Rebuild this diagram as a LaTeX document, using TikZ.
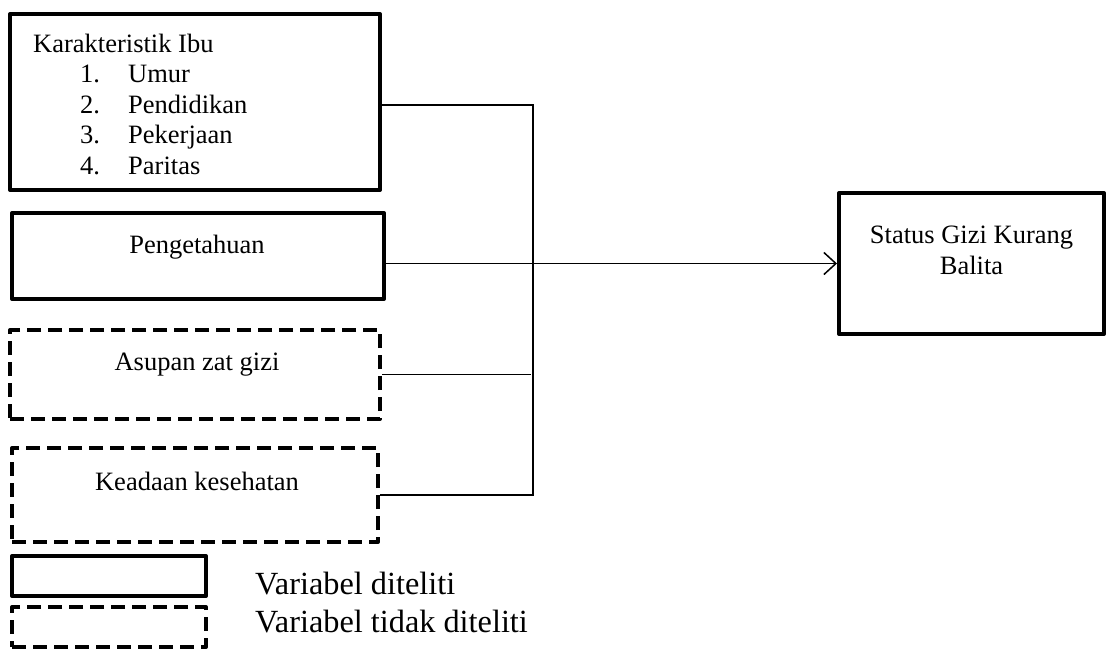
\documentclass[tikz,border=0pt]{standalone}
\usepackage{fontspec}
\setmainfont{Liberation Serif}
\usetikzlibrary{arrows.meta}

\begin{document}
\begin{tikzpicture}[x=1pt, y=-1pt,
                    box/.style={draw, line width=4pt, line join=round, inner sep=0pt},
                    dbox/.style={box, dash pattern=on 14pt off 7pt},
                    link/.style={line width=1.5pt},
                    txt/.style={font=\fontsize{26.5}{30.5}\selectfont, inner sep=0pt},
                    legtxt/.style={font=\fontsize{32.3}{37}\selectfont, inner sep=0pt, anchor=base west}]

  \useasboundingbox (0,0) rectangle (1107,649);

  % === Variable boxes (Left) ===
  \node[box, minimum width=370pt, minimum height=176pt] (ibu) at (195,102) {};
  \node[box, minimum width=372pt, minimum height=86pt] (penget) at (198,256) {};
  \node[dbox, minimum width=370pt, minimum height=89pt] (asupan) at (195,374.5) {};
  \node[dbox, minimum width=366pt, minimum height=94pt] (keadaan) at (195,495) {};

  \node[txt, anchor=base west] (ibu-txt) at (33,52) {%
    \begin{tabular}[t]{@{}l@{}}
      Karakteristik Ibu\\
      \hspace*{47pt}\makebox[48pt][l]{1.}Umur\\
      \hspace*{47pt}\makebox[48pt][l]{2.}Pendidikan\\
      \hspace*{47pt}\makebox[48pt][l]{3.}Pekerjaan\\
      \hspace*{47pt}\makebox[48pt][l]{4.}Paritas
    \end{tabular}};
  \node[txt, anchor=base] (penget-txt) at (197,253) {Pengetahuan};
  \node[txt, anchor=base] (asupan-txt) at (197,370) {Asupan zat gizi};
  \node[txt, anchor=base] (keadaan-txt) at (197,490) {Keadaan kesehatan};

  % === Outcome box (Right) ===
  \node[box, minimum width=265pt, minimum height=141pt] (gizi) at (971.5,263.5) {};
  \node[txt, font=\fontsize{26.5}{31}\selectfont, anchor=base] (gizi-txt) at (971.5,243) {%
    \begin{tabular}[t]{@{}c@{}}Status Gizi Kurang\\ Balita\end{tabular}};

  % === Connectors ===
  \coordinate (trunk) at (533,0);
  \draw[link] ([yshift=-3pt]ibu.east) -| (trunk |- keadaan.east) -- (keadaan.east);
  \draw[link] (asupan.east) -- ([xshift=-2pt]trunk |- asupan.east);
  \draw[link, -{Straight Barb[length=12pt, width=22pt]}] (penget.east |- gizi.west) -- (gizi.west);

  % === Legend ===
  \node[box, minimum width=194pt, minimum height=40pt] (leg-solid) at (109,576) {};
  \node[dbox, minimum width=194pt, minimum height=40pt] (leg-dash) at (109,627) {};
  \node[legtxt] (leg-solid-txt) at (255,594) {Variabel diteliti};
  \node[legtxt] (leg-dash-txt) at (255,632) {Variabel tidak diteliti};

\end{tikzpicture}
\end{document}
